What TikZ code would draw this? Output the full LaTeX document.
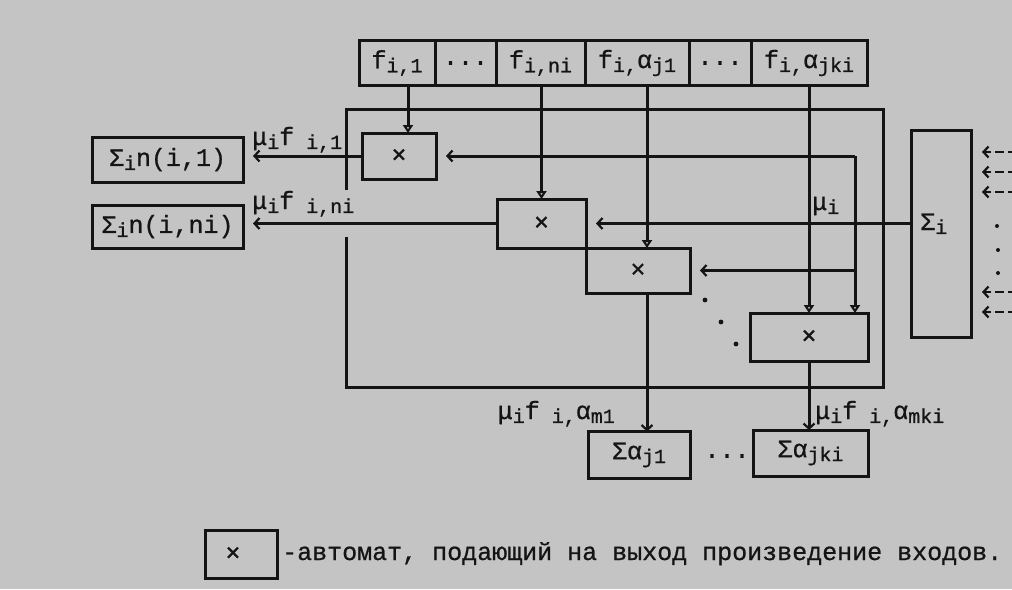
\documentclass[tikz,border=0pt]{standalone}
\usepackage{fontspec}
\setmainfont{Liberation Mono}[FakeBold=0.8]
\usetikzlibrary{arrows.meta}
\definecolor{paper}{RGB}{196,196,196}
\definecolor{ink}{RGB}{20,20,20}
\newcommand{\lowx}[1]{\raisebox{-0.3ex}{\fontsize{20}{22}\selectfont #1}}
\begin{document}
\begin{tikzpicture}[x=1pt,y=-1pt,font=\fontsize{25}{28}\selectfont,
  box/.style={draw=ink,line width=3pt,inner sep=0pt,outer sep=0pt,text=ink},
  ln/.style={draw=ink,line width=3pt},
  tri/.style={-{Triangle[open,length=8pt,width=10pt,line width=2pt]}},
  barb/.style={-{Straight Barb[length=5pt,width=11pt,line width=2.2pt]}},
  lt/.style={barb,shorten >=10pt},
  lab/.style={inner sep=0pt,text=ink},
  dot/.style={fill=ink,draw=none}]
\clip (0,0) rectangle (1012,589);
\fill[paper] (0,0) rectangle (1012,589);
% frame
\draw[ln] (346,190) -- (346,109) -- (883,109) -- (883,387) -- (346,387) -- (346,237);
% top cells
\node[box,minimum width=76pt,minimum height=45pt] (c1) at (397,63) {f\lowx{i,1}};
\node[box,minimum width=61pt,minimum height=45pt] (c2) at (465.5,63) {...};
\node[box,minimum width=89pt,minimum height=45pt] (c3) at (540.5,63) {f\lowx{i,ni}};
\node[box,minimum width=104pt,minimum height=45pt] (c4) at (637,63) {f\lowx{i,}α\lowx{j1}};
\node[box,minimum width=62pt,minimum height=45pt] (c5) at (720,63) {...};
\node[box,minimum width=116pt,minimum height=45pt] (c6) at (809,63) {f\lowx{i,}α\lowx{jki}};
% multiplier boxes
\node[box,minimum width=74pt,minimum height=46pt] (b1) at (399,156) {×};
\node[box,minimum width=89pt,minimum height=49pt] (b2) at (541.5,223.5) {×};
\node[box,minimum width=104pt,minimum height=45pt] (b3) at (638,270.5) {×};
\node[box,minimum width=118pt,minimum height=48pt] (b4) at (809,337) {×};
% sum boxes
\node[box,minimum width=151pt,minimum height=45pt] (S1) at (167.5,159.5) {Σ\lowx{i}n(i,1)};
\node[box,minimum width=151pt,minimum height=43pt] (S2) at (167.5,226.5) {Σ\lowx{i}n(i,ni)};
\node[box,minimum width=60pt,minimum height=207pt] (Si) at (941,233.5) {};
\node[lab,anchor=base west] at (920,230) {Σ\lowx{i}};
\node[box,minimum width=102pt,minimum height=47pt] (A1) at (639,455) {Σα\lowx{j1}};
\node[box,minimum width=115pt,minimum height=46pt] (A2) at (810.5,453) {Σα\lowx{jki}};
\node[lab] (dd) at (727,456) {...};
% inputs from top cells
\draw[ln,tri] (408,0 |- c1.south) -- (408,0 |- b1.north);
\draw[ln,tri] (b2.north |- c3.south) -- (b2.north);
\draw[ln,tri] (647,0 |- c4.south) -- (647,0 |- b3.north);
\draw[ln,tri] (b4.north |- c6.south) -- (b4.north);
% mu distribution
\coordinate (m1) at (855,156);
\coordinate (m2) at (855,270.5);
\draw[ln,lt] (Si.west |- b2.east) -- (b2.east);
\draw[ln,lt] (m1) -- (b1.east);
\draw[ln,tri] (m1) -- (855,0 |- b4.north);
\draw[ln,lt] (m2) -- (b3.east);
\node[lab,anchor=base west] at (812,210) {μ\lowx{i}};
% outputs
\draw[ln,lt] (b1.west) -- (S1.east |- b1.west);
\draw[ln,lt] (b2.west) -- (S2.east |- b2.west);
\draw[ln,barb] (647,0 |- b3.south) -- (647,0 |- A1.north);
\draw[ln,barb] (b4.south) -- (b4.south |- A2.north);
\node[lab,anchor=base west] at (252,145) {μ\lowx{i}f\lowx{ i,1}};
\node[lab,anchor=base west] at (252,209) {μ\lowx{i}f\lowx{ i,ni}};
\node[lab,anchor=base east] at (615,419) {μ\lowx{i}f\lowx{ i,}α\lowx{m1}};
\node[lab,anchor=base west] at (815,419) {μ\lowx{i}f\lowx{ i,}α\lowx{mki}};
% dots between boxes 3 and 4
\fill[dot] (705,300) circle (2.4);
\fill[dot] (721,322) circle (2.4);
\fill[dot] (736,344) circle (2.4);
% incoming lines to Sigma_i
\foreach \yy/\nm in {152/r1,172/r2,192/r3,292/r4,312/r5} {
  \coordinate (\nm) at (1030,\yy);
  \draw[draw=ink,line width=2.4pt,dash pattern=on 9pt off 4pt,barb,shorten >=11pt] (\nm) -- (Si.east |- \nm);
}
\fill[dot] (997,226) circle (2);
\fill[dot] (998,250) circle (2);
\fill[dot] (998,273) circle (2);
% legend
\node[box,minimum width=72pt,minimum height=48pt] (L) at (241,554) {};
\node[lab] at (233,554) {×};
\node[lab,anchor=base west] at (282,560) {-автомат, подающий на выход произведение входов.};
\end{tikzpicture}
\end{document}
